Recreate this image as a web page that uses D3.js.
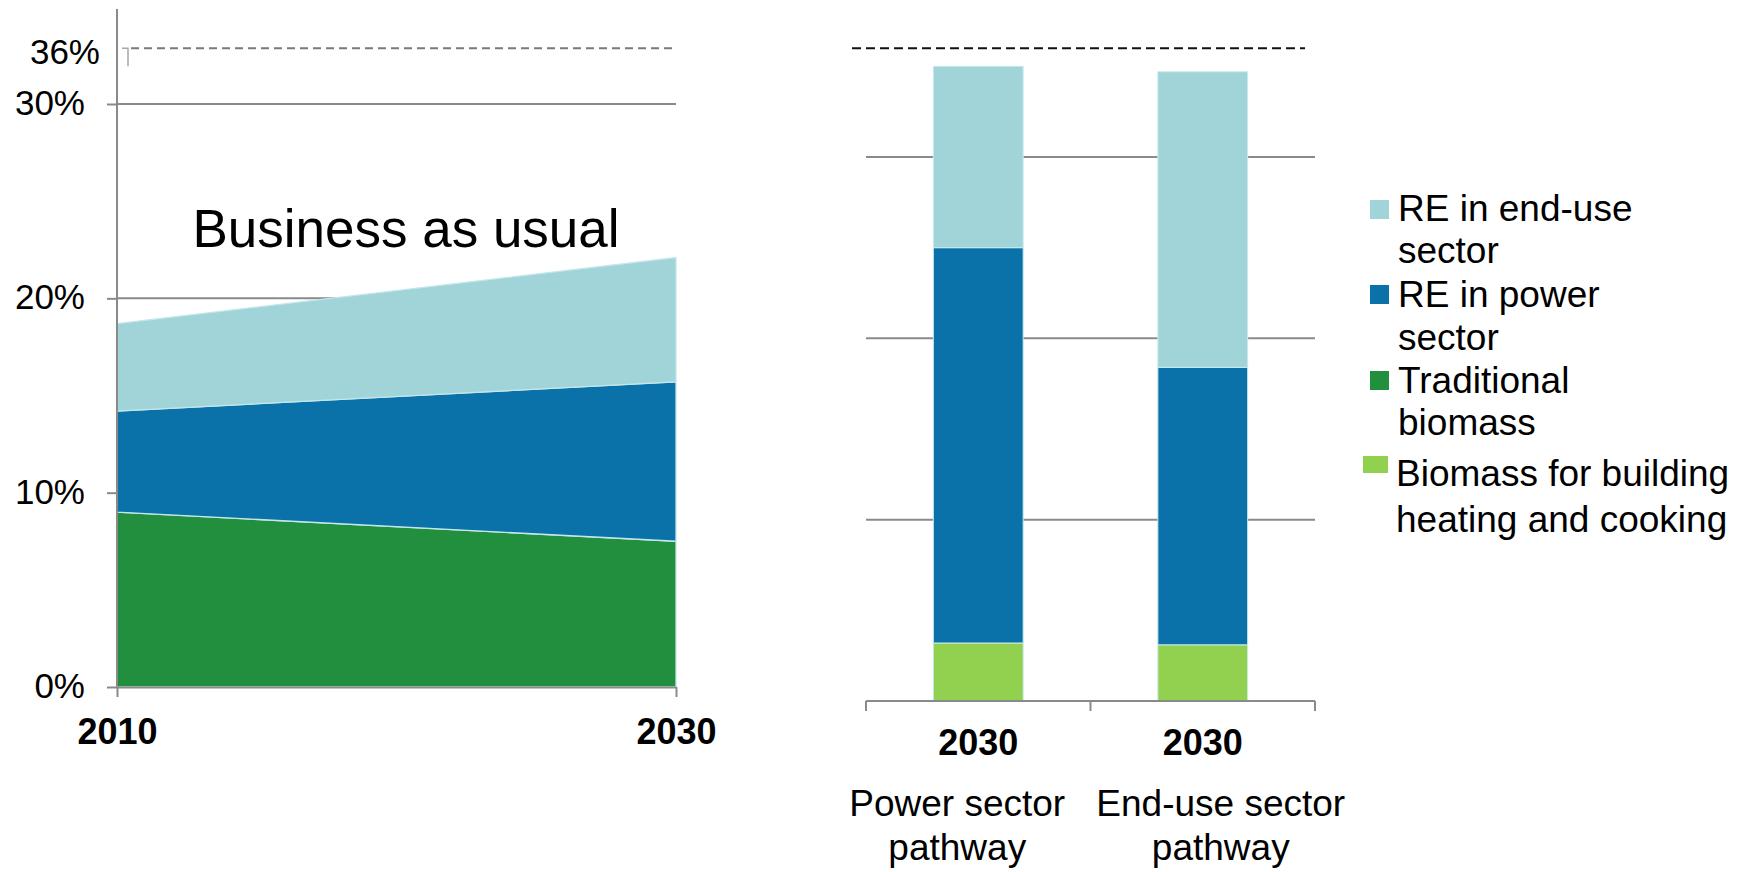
<!DOCTYPE html>
<html><head><meta charset="utf-8">
<script src="https://cdn.jsdelivr.net/npm/d3@7"></script>
<style>
html,body{margin:0;padding:0;background:#fff;}
svg{display:block;font-family:"Liberation Sans",Arial,Helvetica,sans-serif;}
</style></head><body>
<svg id="chart" width="1746" height="872"></svg>
<script>
// Business-as-usual renewable share (stacked areas, % of final energy)
const bauYears = [2010, 2030];
const bauTraditionalBiomass = [9.0, 7.5];
const bauPowerRE = [5.2, 8.2];
const bauEndUseRE = [4.5, 6.4];

// 2030 pathways (stacked bars, % of final energy)
const pathways = ["Power sector pathway", "End-use sector pathway"];
const pathwayBuildingBiomass = [3.2, 3.1];
const pathwayPowerRE = [21.8, 15.3];
const pathwayEndUseRE = [10.0, 16.3];
const pathwayYear = "2030";

const targetShare = 36;
const yTicks = [0, 10, 20, 30];

const legendKeys = ["endUse", "power", "trad", "bldg"];
const legendLabels = [
  ["RE in end-use", "sector"],
  ["RE in power", "sector"],
  ["Traditional", "biomass"],
  ["Biomass for building", "heating and cooking"]
];

const colors = { endUse: "#a0d4d8", power: "#0a72a8", trad: "#228f3e", bldg: "#92d050" };
const gridColor = "#8a8a8a";

const svg = d3.select("#chart");

/* ---------- left panel: business as usual ---------- */
const x = d3.scaleLinear().domain(d3.extent(bauYears)).range([117, 676]);
const y = d3.scaleLinear().domain([0, 30]).range([687, 104]);

/* right panel scales (the target line is shared by both panels) */
const xR = d3.scaleBand().domain(pathways).range([866, 1315]).paddingInner(0.6).paddingOuter(0.3);
const yR = d3.scaleLinear().domain([0, 30]).range([701, 157]);

const left = svg.append("g");

left.selectAll("line.grid").data(yTicks.filter(d => d > 0)).join("line")
  .attr("class", "grid")
  .attr("x1", x(bauYears[0])).attr("x2", x(bauYears[1]))
  .attr("y1", d => y(d)).attr("y2", d => y(d))
  .attr("stroke", gridColor).attr("stroke-width", 2);

const bauRows = bauYears.map((yr, i) => ({
  year: yr, trad: bauTraditionalBiomass[i], power: bauPowerRE[i], endUse: bauEndUseRE[i]
}));
const bauStack = d3.stack().keys(["trad", "power", "endUse"])(bauRows);
const area = d3.area()
  .x(d => x(d.data.year))
  .y0(d => y(d[0]))
  .y1(d => y(d[1]));

left.selectAll("path.layer").data(bauStack).join("path")
  .attr("class", "layer")
  .attr("d", area)
  .attr("fill", d => colors[d.key])
  .attr("stroke", "#c4e6ec").attr("stroke-width", 1.3);

// y axis
const yAxis = left.append("g").attr("transform", `translate(${x(bauYears[0])},0)`)
  .call(d3.axisLeft(y).tickValues(yTicks).tickSize(10).tickPadding(22).tickFormat(d => d + "%"));
yAxis.select(".domain").remove();
yAxis.selectAll(".tick line").attr("stroke", gridColor).attr("stroke-width", 2);
yAxis.selectAll(".tick text").attr("font-size", 35).attr("dy", "0.3em").attr("fill", "#000").attr("font-family", null);
left.append("line")
  .attr("x1", x(bauYears[0])).attr("x2", x(bauYears[0]))
  .attr("y1", 9).attr("y2", y(0))
  .attr("stroke", gridColor).attr("stroke-width", 2);

// x axis
const xAxis = left.append("g").attr("transform", `translate(0,${y(0)})`)
  .call(d3.axisBottom(x).tickValues(bauYears).tickFormat(d3.format("d")).tickSize(10).tickSizeOuter(0).tickPadding(21));
xAxis.select(".domain").attr("stroke", gridColor).attr("stroke-width", 2);
xAxis.selectAll(".tick line").attr("stroke", gridColor).attr("stroke-width", 2);
xAxis.selectAll(".tick text").attr("font-size", 36).attr("font-weight", "bold").attr("fill", "#000").attr("font-family", null);

// target line and label
const yT = yR(targetShare);
left.append("line")
  .attr("x1", 131).attr("x2", x(bauYears[1]))
  .attr("y1", yT).attr("y2", yT)
  .attr("stroke", "#7a7a7a").attr("stroke-width", 2).attr("stroke-dasharray", "8,5");
left.append("path")
  .attr("d", `M122,${yT}H128V${yT + 18}`)
  .attr("fill", "none").attr("stroke", "#a8a8a8").attr("stroke-width", 1.5);
left.append("text")
  .attr("x", 100).attr("y", yT).attr("dy", "0.45em")
  .attr("text-anchor", "end").attr("font-size", 35)
  .text(targetShare + "%");

left.append("text")
  .attr("x", 406).attr("y", 247)
  .attr("text-anchor", "middle").attr("font-size", 53)
  .text("Business as usual");

/* ---------- right panel: 2030 pathways ---------- */
const right = svg.append("g");

right.selectAll("line.grid").data(yTicks.filter(d => d > 0)).join("line")
  .attr("class", "grid")
  .attr("x1", xR.range()[0]).attr("x2", xR.range()[1])
  .attr("y1", d => yR(d)).attr("y2", d => yR(d))
  .attr("stroke", gridColor).attr("stroke-width", 2);

const pathRows = pathways.map((p, i) => ({
  name: p, bldg: pathwayBuildingBiomass[i], power: pathwayPowerRE[i], endUse: pathwayEndUseRE[i]
}));
const pathStack = d3.stack().keys(["bldg", "power", "endUse"])(pathRows);

right.selectAll("g.series").data(pathStack).join("g")
  .attr("class", "series")
  .attr("fill", d => colors[d.key])
  .selectAll("rect").data(d => d).join("rect")
  .attr("x", d => xR(d.data.name))
  .attr("width", xR.bandwidth())
  .attr("y", d => yR(d[1]))
  .attr("height", d => yR(d[0]) - yR(d[1]))
  .attr("stroke", "#c8eaee").attr("stroke-width", 1);

// baseline with category separators
const sepX = [xR.range()[0], (xR.range()[0] + xR.range()[1]) / 2, xR.range()[1]];
right.append("line")
  .attr("x1", xR.range()[0]).attr("x2", xR.range()[1])
  .attr("y1", yR(0)).attr("y2", yR(0))
  .attr("stroke", gridColor).attr("stroke-width", 2);
right.selectAll("line.sep").data(sepX).join("line")
  .attr("class", "sep")
  .attr("x1", d => d).attr("x2", d => d)
  .attr("y1", yR(0)).attr("y2", yR(0) + 10)
  .attr("stroke", gridColor).attr("stroke-width", 2);

// target line
right.append("line")
  .attr("x1", 852).attr("x2", 1305)
  .attr("y1", yT).attr("y2", yT)
  .attr("stroke", "#111").attr("stroke-width", 2).attr("stroke-dasharray", "9,5");

// category labels
right.selectAll("text.year").data(pathways).join("text")
  .attr("class", "year")
  .attr("x", d => xR(d) + xR.bandwidth() / 2)
  .attr("y", 755)
  .attr("text-anchor", "middle").attr("font-size", 36).attr("font-weight", "bold")
  .text(pathwayYear);

const nameShift = [-21, 18];
const names = right.selectAll("text.name").data(pathways).join("text")
  .attr("class", "name")
  .attr("text-anchor", "middle").attr("font-size", 37);
names.each(function (d, i) {
  const cut = d.lastIndexOf(" ");
  const cx = xR(d) + xR.bandwidth() / 2 + nameShift[i];
  const t = d3.select(this);
  t.append("tspan").attr("x", cx).attr("y", 816).text(d.slice(0, cut));
  t.append("tspan").attr("x", cx).attr("y", 860).text(d.slice(cut + 1));
});

/* ---------- legend ---------- */
const legendRows = [
  { sx: 1370, sy: 200, sw: 19, sh: 19, tx: 1398, ty: 221, lh: 42 },
  { sx: 1370, sy: 285, sw: 19, sh: 19, tx: 1398, ty: 307, lh: 43 },
  { sx: 1370, sy: 371, sw: 19, sh: 19, tx: 1398, ty: 393, lh: 42 },
  { sx: 1363, sy: 456, sw: 25, sh: 17, tx: 1396, ty: 486, lh: 46 }
];
const legend = svg.append("g");
legendKeys.forEach((k, i) => {
  const r = legendRows[i];
  legend.append("rect")
    .attr("x", r.sx).attr("y", r.sy).attr("width", r.sw).attr("height", r.sh)
    .attr("fill", colors[k]);
  const t = legend.append("text").attr("font-size", 37);
  legendLabels[i].forEach((line, j) => {
    t.append("tspan").attr("x", r.tx).attr("y", r.ty + j * r.lh).text(line);
  });
});
</script>
</body></html>
